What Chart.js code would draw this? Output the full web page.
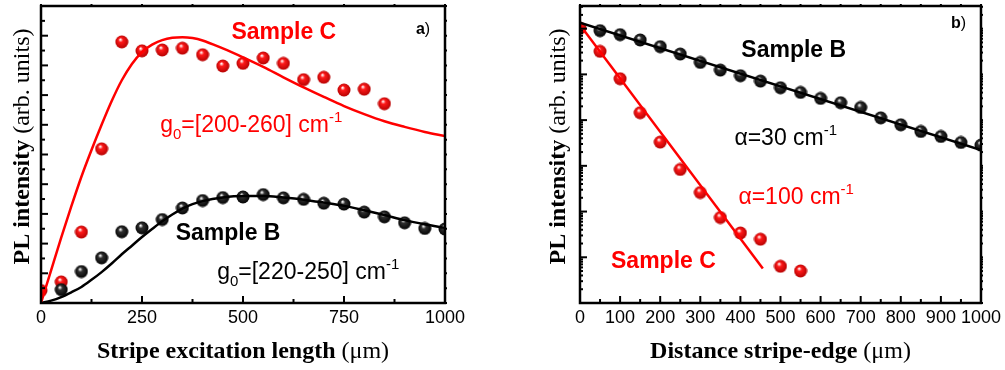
<!DOCTYPE html>
<html>
<head>
<meta charset="utf-8">
<script src="https://cdn.jsdelivr.net/npm/chart.js@4.4.0/dist/chart.umd.min.js"></script>
<style>
  html, body { margin: 0; padding: 0; background: #fff; }
  #wrap { position: relative; width: 1005px; height: 370px; overflow: hidden; }
  .panel { position: absolute; top: 0; height: 370px; }
  #pa { left: 0; width: 500px; }
  #pb { left: 500px; width: 505px; }
</style>
</head>
<body>
<div id="wrap">
  <div class="panel" id="pa"><canvas id="chart-a"></canvas></div>
  <div class="panel" id="pb"><canvas id="chart-b"></canvas></div>
</div>
<script>
// ─── DATA: a) PL vs stripe excitation length ─────────────────────────────────
const lenX = [0, 50, 100, 150, 200, 250, 300, 350, 400, 450, 500, 550, 600, 650, 700, 750, 800, 850, 900, 950, 1000];
const lenC = [0.42, 0.71, 2.39, 5.19, 8.79, 8.49, 8.52, 8.58, 8.36, 7.98, 8.07, 8.25, 8.07, 7.52, 7.60, 7.17, 7.20, 6.71];
const lenB = [null, 0.45, 1.06, 1.52, 2.40, 2.53, 2.81, 3.20, 3.45, 3.55, 3.57, 3.65, 3.54, 3.49, 3.36, 3.33, 3.06, 2.90, 2.70, 2.51, 2.49];

// fit curves
const fitX = [0, 25, 50, 75, 100, 125, 150, 175, 200, 225, 250, 275, 300, 325, 350, 375, 400, 450, 500, 550, 600, 650, 700, 750, 800, 850, 900, 950, 1000];
const fitC = [0, 1.1, 2.2, 3.25, 4.25, 5.15, 6.0, 6.8, 7.5, 8.05, 8.45, 8.7, 8.85, 8.93, 8.95, 8.92, 8.84, 8.57, 8.27, 7.95, 7.6, 7.26, 6.94, 6.63, 6.36, 6.12, 5.93, 5.76, 5.62];
const fitB = [0, 0.08, 0.2, 0.36, 0.54, 0.78, 1.04, 1.33, 1.64, 1.93, 2.22, 2.49, 2.75, 2.98, 3.18, 3.33, 3.43, 3.55, 3.6, 3.6, 3.55, 3.48, 3.38, 3.27, 3.12, 2.96, 2.79, 2.65, 2.53];

// ─── DATA: b) PL vs distance stripe-edge (log) ───────────────────────────────
const distX = [0, 50, 100, 150, 200, 250, 300, 350, 400, 450, 500, 550, 600, 650, 700, 750, 800, 850, 900, 950, 1000];
const distB = [null, 9.04e5, 7.40e5, 5.65e5, 4.04e5, 2.79e5, 1.83e5, 1.24e5, 9.35e4, 7.14e4, 5.11e4, 4.04e4, 2.98e4, 2.40e4, 1.89e4, 1.12e4, 7.91e3, 5.65e3, 4.39e3, 3.24e3, 2.84e3];
const distC = [1.02e6, 3.19e5, 8.04e4, 1.45e4, 3.30e3, 832, 261, 74, 34, 24.8, 6.35, 5.02];
const lineBX = [0, 1000];
const lineBY = [1.35e6, 2.20e3];
const lineCX = [0, 456];
const lineCY = [1.20e6, 5.65];

const xTicksA = [0, 250, 500, 750, 1000];
const xTicksB = [0, 100, 200, 300, 400, 500, 600, 700, 800, 900, 1000];

const RED = '#ff0000';
const SANS = "'Liberation Sans', Arial, sans-serif";
const SERIF = "'Liberation Serif', 'Times New Roman', serif";

// shaded ball markers
function ball(base, dark) {
    const c = document.createElement('canvas');
    c.width = c.height = 14;
    const g = c.getContext('2d');
    const grd = g.createRadialGradient(5.5, 4.5, 0.4, 7, 7, 7);
    grd.addColorStop(0, '#ffffff');
    grd.addColorStop(0.28, base);
    grd.addColorStop(1, dark);
    g.fillStyle = grd;
    g.beginPath();
    g.arc(7, 7, 6.5, 0, Math.PI * 2);
    g.fill();
    return c;
}
const redBall = ball('#ff1a1a', '#b00000');
const blackBall = ball('#303030', '#000000');

const pts = (xs, ys) => ys.map((y, i) => ({ x: xs[i], y })).filter(p => p.y !== null);

// ─── PLUGIN: frame + inward ticks ────────────────────────────────────────────
const frameTicks = {
    id: 'frameTicks',
    afterDatasetsDraw(chart, args, o) {
        const { ctx, chartArea: a, scales: { x, y } } = chart;
        ctx.save();
        ctx.strokeStyle = '#000';
        ctx.lineWidth = 2;
        const line = (x1, y1, x2, y2) => { ctx.beginPath(); ctx.moveTo(x1, y1); ctx.lineTo(x2, y2); ctx.stroke(); };

        for (let v = x.min; v <= x.max + 1e-9; v += o.xMinor) {
            const px = x.getPixelForValue(v);
            const major = Math.abs(v / o.xMajor - Math.round(v / o.xMajor)) < 1e-6;
            line(px, a.bottom, px, a.bottom - (major ? 7 : 4));
            line(px, a.top, px, a.top - 2);
        }
        const yv = [];
        if (o.log) {
            for (let e = 0; e <= 6; e++) for (let m = 1; m <= 9; m++) {
                const v = m * Math.pow(10, e);
                if (v >= y.min && v <= y.max) yv.push([v, m === 1]);
            }
        } else {
            for (let v = y.min; v <= y.max + 1e-9; v += o.yMinor) {
                yv.push([v, Math.abs(v / o.yMajor - Math.round(v / o.yMajor)) < 1e-6]);
            }
        }
        yv.forEach(([v, major]) => {
            const py = y.getPixelForValue(v);
            line(a.left, py, a.left + (major ? 7 : (o.log ? 3 : 4)), py);
            line(a.right, py, a.right + 2, py);
        });
        ctx.lineWidth = 2.5;
        ctx.strokeRect(a.left, a.top, a.right - a.left, a.bottom - a.top);
        ctx.restore();
    }
};

// ─── PLUGIN: axis titles (mixed weights) + annotations ───────────────────────
function richText(ctx, x, y, parts, align) {
    let w = 0;
    parts.forEach(p => { ctx.font = p.font; w += ctx.measureText(p.t).width; });
    let cx = align === 'center' ? x - w / 2 : x;
    parts.forEach(p => {
        ctx.font = p.font;
        ctx.fillText(p.t, cx, y + (p.dy || 0));
        cx += ctx.measureText(p.t).width;
    });
}

const textLayer = {
    id: 'textLayer',
    afterDraw(chart, args, o) {
        const { ctx, chartArea: a, scales: { x, y } } = chart;
        ctx.save();
        ctx.textBaseline = 'alphabetic';
        ctx.textAlign = 'left';
        ctx.fillStyle = '#000';
        // x title
        richText(ctx, (a.left + a.right) / 2, 358, [
            { t: o.xTitle, font: `bold 24px ${SERIF}` },
            { t: ' (\u03bcm)', font: `24px ${SERIF}` },
        ], 'center');
        // y title
        ctx.save();
        ctx.translate(o.yTitleX, 146.5);
        ctx.rotate(-Math.PI / 2);
        richText(ctx, 0, 0, [
            { t: 'PL intensity', font: `bold 24px ${SERIF}` },
            { t: ' (arb. units)', font: `24px ${SERIF}` },
        ], 'center');
        ctx.restore();
        // annotations in data coordinates
        o.notes.forEach(n => {
            ctx.fillStyle = n.color;
            richText(ctx, x.getPixelForValue(n.x), y.getPixelForValue(n.y), n.parts, n.align);
        });
        ctx.restore();
    }
};

const big = (t, bold) => ({ t, font: `${bold ? 'bold ' : ''}23px ${SANS}` });
const sub = t => ({ t, font: `15px ${SANS}`, dy: 7 });
const sup = t => ({ t, font: `15px ${SANS}`, dy: -10 });

function xAxis(tickVals) {
    return {
        type: 'linear', min: 0, max: 1000,
        afterBuildTicks: s => { s.ticks = tickVals.map(v => ({ value: v })); },
        ticks: { color: '#000', font: { family: SANS, size: 18 }, padding: 4, autoSkip: false, maxRotation: 0, callback: v => String(v) },
        grid: { display: false, drawTicks: false },
        border: { display: false },
    };
}

// ─── CHART a) ────────────────────────────────────────────────────────────────
new Chart(document.getElementById('chart-a'), {
    type: 'scatter',
    data: {
        datasets: [
            { type: 'line', data: pts(fitX, fitC), borderColor: RED, borderWidth: 2.5, pointRadius: 0, cubicInterpolationMode: 'monotone', clip: 0 },
            { type: 'line', data: pts(fitX, fitB), borderColor: '#000', borderWidth: 2.5, pointRadius: 0, cubicInterpolationMode: 'monotone', clip: 0 },
            { data: pts(lenX, lenB), pointStyle: blackBall, clip: 0 },
            { data: pts(lenX, lenC), pointStyle: redBall, clip: 0 },
        ]
    },
    options: {
        responsive: true,
        maintainAspectRatio: false,
        animation: false,
        layout: { padding: { left: 41, right: 55, top: 6, bottom: 37.4 } },
        plugins: {
            legend: { display: false },
            tooltip: { enabled: false },
            frameTicks: { xMajor: 250, xMinor: 125, yMajor: 1, yMinor: 0.5, log: false },
            textLayer: {
                xTitle: 'Stripe excitation length',
                yTitleX: 29,
                notes: [
                    { x: 601, y: 8.89, align: 'center', color: RED, parts: [big('Sample C', true)] },
                    { x: 295, y: 5.76, align: 'left', color: RED, parts: [big('g'), sub('0'), big('=[200-260] cm'), sup('-1')] },
                    { x: 463, y: 2.12, align: 'center', color: '#000', parts: [big('Sample B', true)] },
                    { x: 436, y: 0.81, align: 'left', color: '#000', parts: [big('g'), sub('0'), big('=[220-250] cm'), sup('-1')] },
                    { x: 928, y: 9.06, align: 'left', color: '#000', parts: [{ t: 'a', font: `bold 16px ${SANS}` }, { t: ')', font: `16px ${SANS}` }] },
                ]
            }
        },
        scales: {
            x: xAxis(xTicksA),
            y: { type: 'linear', min: 0, max: 10, display: false },
        }
    },
    plugins: [frameTicks, textLayer]
});

// ─── CHART b) ────────────────────────────────────────────────────────────────
new Chart(document.getElementById('chart-b'), {
    type: 'scatter',
    data: {
        datasets: [
            { type: 'line', data: pts(lineBX, lineBY), borderColor: '#000', borderWidth: 2.5, pointRadius: 0, clip: 0 },
            { type: 'line', data: pts(lineCX, lineCY), borderColor: RED, borderWidth: 2.5, pointRadius: 0, clip: 0 },
            { data: pts(distX, distB), pointStyle: blackBall, clip: 0 },
            { data: pts(distX, distC), pointStyle: redBall, clip: 0 },
        ]
    },
    options: {
        responsive: true,
        maintainAspectRatio: false,
        animation: false,
        layout: { padding: { left: 80, right: 22, top: 6, bottom: 37.4 } },
        plugins: {
            legend: { display: false },
            tooltip: { enabled: false },
            frameTicks: { xMajor: 100, xMinor: 50, log: true },
            textLayer: {
                xTitle: 'Distance stripe-edge',
                yTitleX: 65,
                notes: [
                    { x: 925, y: 1.05e6, align: 'left', color: '#000', parts: [{ t: 'b', font: `bold 16px ${SANS}` }, { t: ')', font: `16px ${SANS}` }] },
                    { x: 533, y: 2.43e5, align: 'center', color: '#000', parts: [big('Sample B', true)] },
                    { x: 385, y: 2.88e3, align: 'left', color: '#000', parts: [big('\u03b1=30 cm'), sup('-1')] },
                    { x: 395, y: 147, align: 'left', color: RED, parts: [big('\u03b1=100 cm'), sup('-1')] },
                    { x: 208, y: 5.84, align: 'center', color: RED, parts: [big('Sample C', true)] },
                ]
            }
        },
        scales: {
            x: xAxis(xTicksB),
            y: { type: 'logarithmic', min: 1, max: 3.13e6, display: false },
        }
    },
    plugins: [frameTicks, textLayer]
});
</script>
</body>
</html>
